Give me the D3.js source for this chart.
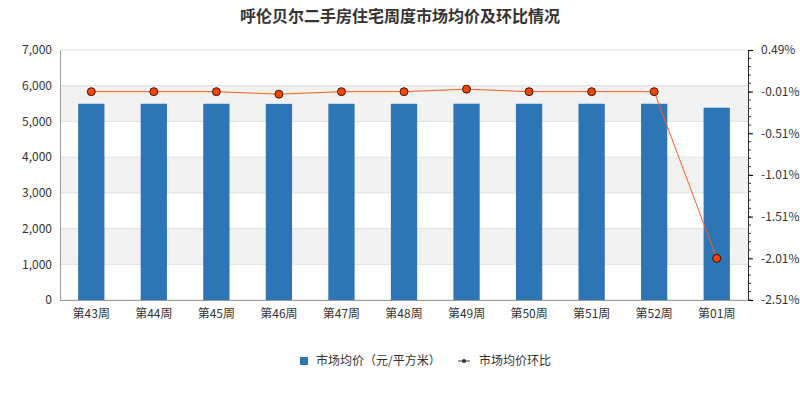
<!DOCTYPE html>
<html><head><meta charset="utf-8">
<script src="https://cdn.jsdelivr.net/npm/d3@7"></script>
<style>body{margin:0;background:#fff}text{font-family:"Noto Sans CJK SC","Noto Sans",sans-serif}</style>
</head><body><svg id="chart" width="800" height="400"></svg>
<script>
var weeks = ["第43周","第44周","第45周","第46周","第47周","第48周","第49周","第50周","第51周","第52周","第01周"];
var prices = [5495, 5495, 5495, 5492, 5494, 5494, 5496, 5495, 5495, 5495, 5385];
var changes = [-0.01, -0.01, -0.01, -0.04, -0.01, -0.01, 0.02, -0.01, -0.01, -0.01, -2.01];
var leftTicks = [0, 1000, 2000, 3000, 4000, 5000, 6000, 7000];
var rightTicks = [-2.51, -2.01, -1.51, -1.01, -0.51, -0.01, 0.49];

var svg = d3.select("#chart");
var L = 60, R = 748, T = 50, B = 300;

svg.append("text").attr("x", 400).attr("y", 22).attr("text-anchor", "middle")
  .style("font-size", "16px").style("font-weight", "bold").attr("fill", "#333")
  .text("呼伦贝尔二手房住宅周度市场均价及环比情况");

var x = d3.scaleBand().domain(weeks).range([L, R]).paddingInner(0.58).paddingOuter(0.29);
var y = d3.scaleLinear().domain([0, 7000]).range([B, T]);
var y2 = d3.scaleLinear().domain([-2.51, 0.49]).range([B, T]);

// bands
for (var i = 0; i < leftTicks.length - 1; i++) {
  if (i % 2 == 1) {
    svg.append("rect").attr("x", L).attr("width", R - L)
      .attr("y", y(leftTicks[i + 1])).attr("height", y(leftTicks[i]) - y(leftTicks[i + 1]))
      .attr("fill", "#f2f2f2");
  }
}
leftTicks.forEach(function(t) {
  svg.append("line").attr("x1", L).attr("x2", R).attr("y1", y(t)).attr("y2", y(t)).attr("stroke", "#e0e0e0");
});

svg.selectAll(".bar").data(prices).enter().append("rect")
  .attr("x", (d, i) => x(weeks[i])).attr("width", x.bandwidth())
  .attr("y", d => y(d)).attr("height", d => B - y(d)).attr("fill", "#2e75b6");

// axes
var ax = svg.append("g").attr("transform", "translate(" + L + ",0)")
  .call(d3.axisLeft(y).tickValues(leftTicks).tickSize(0).tickPadding(8));
ax.select(".domain").attr("stroke", "#999");
var ax2 = svg.append("g").attr("transform", "translate(" + R + ",0)")
  .call(d3.axisRight(y2).tickValues(rightTicks).tickFormat(d => d.toFixed(2) + "%").tickSize(5).tickPadding(8));
ax2.select(".domain").attr("stroke", "#333");
var minor = d3.range(-2.51, 0.49, 0.1);
svg.append("g").selectAll("line").data(minor).enter().append("line")
  .attr("x1", R).attr("x2", R + 3).attr("y1", d => y2(d)).attr("y2", d => y2(d)).attr("stroke", "#333");
var axb = svg.append("g").attr("transform", "translate(0," + B + ")")
  .call(d3.axisBottom(x).tickSize(0).tickPadding(9));
axb.select(".domain").attr("stroke", "#999");
svg.selectAll(".tick text").style("font-size", "12px").attr("fill", "#333");

// line
var line = d3.line().x((d, i) => x(weeks[i]) + x.bandwidth() / 2).y(d => y2(d));
svg.append("path").datum(changes).attr("d", line).attr("fill", "none").attr("stroke", "#ff5a1f").attr("stroke-width", 1);
svg.selectAll(".pt").data(changes).enter().append("circle")
  .attr("cx", (d, i) => x(weeks[i]) + x.bandwidth() / 2).attr("cy", d => y2(d)).attr("r", 4)
  .attr("fill", "#ff4500").attr("stroke", "#000").attr("stroke-width", 0.8);

// legend
svg.append("rect").attr("x", 300).attr("y", 357).attr("width", 8).attr("height", 8).attr("fill", "#2e75b6");
svg.append("text").attr("x", 316).attr("y", 365).style("font-size", "12px").attr("fill", "#333").text("市场均价（元/平方米）");
svg.append("line").attr("x1", 458).attr("x2", 470).attr("y1", 361).attr("y2", 361).attr("stroke", "#333");
svg.append("circle").attr("cx", 464).attr("cy", 361).attr("r", 2).attr("fill", "#333");
svg.append("text").attr("x", 479).attr("y", 365).style("font-size", "12px").attr("fill", "#333").text("市场均价环比");
</script></body></html>
